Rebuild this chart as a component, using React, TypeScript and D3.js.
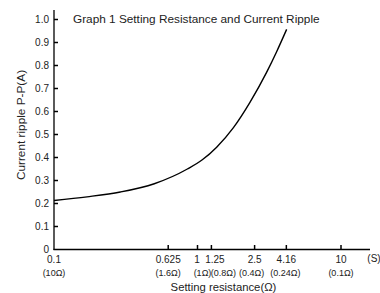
import React from "react";
import * as d3 from "d3";

const xTicks = [0.1, 0.625, 1, 1.25, 2.5, 4.16, 10];
const xTickLabels = ["0.1", "0.625", "1", "1.25", "2.5", "4.16", "10"];
const xOhmLabels = ["(10Ω)", "(1.6Ω)", "(1Ω)", "(0.8Ω)", "(0.4Ω)", "(0.24Ω)", "(0.1Ω)"];
const yTicks = [0, 0.1, 0.2, 0.3, 0.4, 0.5, 0.6, 0.7, 0.8, 0.9, 1.0];
const yTickLabels = ["0", "0.1", "0.2", "0.3", "0.4", "0.5", "0.6", "0.7", "0.8", "0.9", "1.0"];

const conductance = [0.1, 0.17, 0.29, 0.5, 0.85, 1.08, 1.36, 1.78, 2.32, 3.03, 3.56, 4.18];
const ripple = [0.213, 0.229, 0.25, 0.286, 0.35, 0.39, 0.445, 0.53, 0.64, 0.77, 0.86, 0.957];

const title = "Graph 1 Setting Resistance and Current Ripple";
const xTitle = "Setting resistance(Ω)";
const yTitle = "Current ripple P-P(A)";

export default function App() {
  const W = 380, H = 293;
  const x = d3.scaleLog().domain([0.1, 10]).range([54, 341]);
  const y = d3.scaleLinear().domain([0, 1]).range([249.5, 19.5]);
  const line = d3
    .line<number>()
    .x((d, i) => x(conductance[i]))
    .y((d) => y(d))
    .curve(d3.curveMonotoneX);
  const font = "'Liberation Sans', Arial, sans-serif";
  const numDx = [0, 0, -0.5, 3.5, 0, 0, 0];
  const ohmDx = [0, 0, 5, 12, -3, -1, 0];
  return (
    <svg width={W} height={H} style={{ position: "absolute", left: 0, top: 0 }} fontFamily={font}>
      <rect width={W} height={H} fill="#fff" />
      <text x={73} y={22.5} fontSize={11.8} fill="#222">{title}</text>
      <line x1={54} x2={54} y1={10} y2={250} stroke="#000" strokeWidth={1.3} />
      <line x1={53.5} x2={370} y1={249.5} y2={249.5} stroke="#000" strokeWidth={1.3} />
      {yTicks.map((t, i) => (
        <g key={"y" + i}>
          {i > 0 && <line x1={54} x2={58} y1={y(t)} y2={y(t)} stroke="#000" strokeWidth={1.5} />}
          <text x={49} y={y(t) + 3.5} fontSize={10} textAnchor="end" fill="#222">{yTickLabels[i]}</text>
        </g>
      ))}
      {xTicks.map((t, i) => (
        <g key={"x" + i}>
          {i > 0 && <line x1={x(t)} x2={x(t)} y1={249.5} y2={245} stroke="#000" strokeWidth={1.5} />}
          <text x={x(t) + numDx[i]} y={262.5} fontSize={10} textAnchor="middle" fill="#222">{xTickLabels[i]}</text>
          <text x={x(t) + ohmDx[i]} y={275.5} fontSize={9} textAnchor="middle" fill="#222">{xOhmLabels[i]}</text>
        </g>
      ))}
      <text x={374} y={262} fontSize={10} textAnchor="middle" fill="#222">(S)</text>
      <text x={223.5} y={291} fontSize={11.3} textAnchor="middle" fill="#222">{xTitle}</text>
      <text transform={`translate(25,125) rotate(-90)`} fontSize={11.8} textAnchor="middle" fill="#222">{yTitle}</text>
      <path d={line(ripple) || ""} fill="none" stroke="#000" strokeWidth={1.4} />
    </svg>
  );
}
